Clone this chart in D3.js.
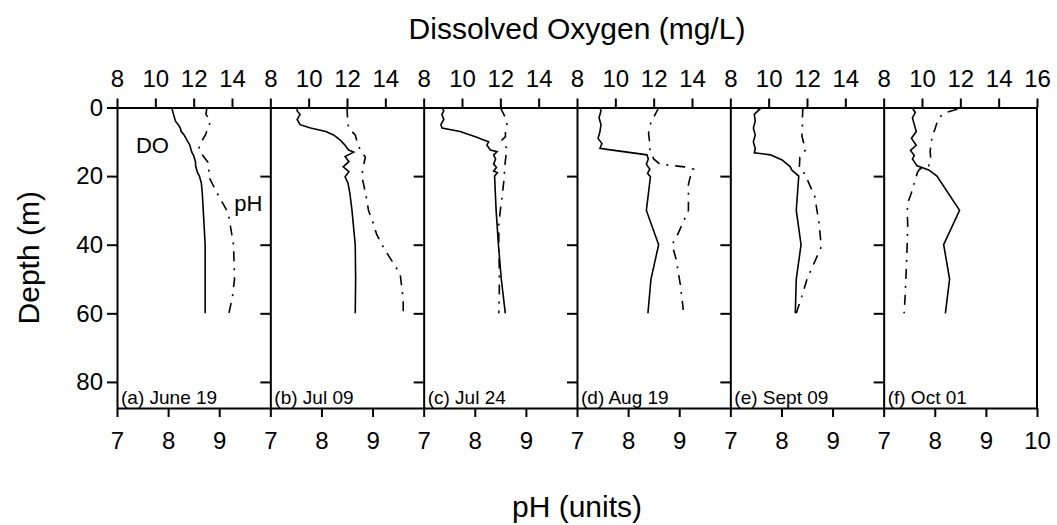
<!DOCTYPE html>
<html>
<head>
<meta charset="utf-8">
<script src="https://cdn.jsdelivr.net/npm/d3@7"></script>
<style>
body { margin: 0; background: #fff; }
svg { font-family: "Liberation Sans", Arial, sans-serif; }
.axis .domain { stroke-width: 2; }
.axis .tick line { stroke-width: 2; }
</style>
</head>
<body>
<svg id="chart" width="1057" height="525"></svg>
<script>
// panel labels
const panelLabels = ['(a) June 19', '(b) Jul 09', '(c) Jul 24', '(d) Aug 19', '(e) Sept 09', '(f) Oct 01'];

// ticks
const doTicks = [8, 10, 12, 14];
const phTicks = [7, 8, 9];
const depthTicks = [0, 20, 40, 60, 80];

// [depth (m), DO (mg/L)]
const doA = [[0,10.85],[1,10.9],[2,10.95],[3,11.0],[4,11.05],[5,11.2],[6,11.3],[7,11.35],[8,11.5],[9,11.6],[10,11.7],[11,11.8],[12,11.85],[13,11.9],[14,12.0],[15,12.05],[16,12.1],[17,12.1],[18,12.15],[19,12.2],[20,12.3],[22,12.4],[25,12.45],[30,12.5],[40,12.6],[50,12.6],[60,12.6]];
const doB = [[0,9.4],[1,9.4],[2,9.55],[3.5,9.4],[5,9.55],[6,10.1],[7,10.9],[8,11.3],[9.5,11.65],[11,11.9],[12.4,12.08],[13,12.35],[14.3,11.9],[15.8,12.1],[17.3,11.8],[18.7,12.1],[20.2,11.9],[22,12.05],[25,12.15],[30,12.26],[40,12.43],[50,12.45],[60,12.43]];
const doC = [[0,8.96],[1,9.05],[2,8.95],[3.5,9.05],[5,8.9],[6,8.96],[7,9.9],[8.5,10.7],[9.5,11.13],[10,11.39],[11,11.3],[12.4,11.48],[12.9,11.83],[13.8,11.65],[15,11.75],[16.5,11.65],[17.5,11.8],[18.5,11.65],[19,11.85],[20,11.7],[30,11.78],[40,11.9],[50,12.05],[60,12.26]];
const doD = [[0,9.2],[1,9.25],[3,9.15],[5,9.25],[7,9.2],[9,9.1],[10.5,9.3],[11.9,9.2],[12.2,9.56],[13.8,11.65],[15,11.72],[16.5,11.62],[18,11.8],[19.2,11.68],[20.2,11.83],[30,11.62],[40,12.26],[50,11.86],[60,11.7]];
const doE = [[0,9.3],[0.5,9.53],[2,9.25],[4,9.3],[6,9.2],[8,9.3],[10,9.2],[12,9.3],[13.2,9.25],[13.8,10.09],[15.3,10.7],[17.3,11.13],[18.2,11.2],[20,11.57],[30,11.44],[40,11.69],[50,11.44],[60,11.39]];
const doF = [[0,9.48],[1.5,9.65],[3,9.5],[5,9.6],[7,9.7],[9,9.45],[11,9.7],[12.5,9.4],[14,9.6],[15,9.5],[17,9.74],[18.2,10.35],[20,10.78],[30,11.96],[40,11.13],[50,11.44],[60,11.22]];

// [depth (m), pH]
const phA = [[0,8.76],[2,8.74],[4,8.83],[6,8.78],[8,8.73],[10,8.65],[12,8.6],[14,8.68],[16,8.78],[18,8.8],[20,8.79],[25,8.96],[30,9.15],[32,9.19],[40,9.28],[50,9.3],[55,9.26],[60,9.19]];
const phB = [[0,8.5],[3,8.51],[6,8.53],[8,8.66],[10,8.7],[12.5,8.76],[14.5,8.86],[17,8.82],[20,8.79],[27,8.89],[30,8.92],[34,9.02],[37,9.08],[41,9.22],[48.5,9.54],[56,9.6],[60,9.6]];
const phC = [[0,8.5],[3,8.6],[5,8.63],[7,8.6],[8.5,8.6],[9.5,8.53],[12,8.63],[14,8.61],[18,8.58],[20,8.58],[26.5,8.53],[30,8.5],[34,8.47],[40,8.47],[48,8.48],[55,8.48],[60,8.47]];
const phD = [[0,8.6],[2,8.53],[5,8.43],[7.5,8.4],[10,8.42],[12.4,8.43],[15,8.5],[16.5,8.62],[17.3,9.1],[18,9.28],[19,9.24],[20,9.22],[22.4,9.18],[30,9.18],[37,8.97],[40,8.86],[44.3,8.94],[51.5,9.02],[59,9.08]];
const phE = [[0,8.42],[3,8.41],[7,8.41],[8.3,8.4],[12.4,8.47],[14.5,8.36],[17.8,8.35],[19.2,8.45],[25.8,8.65],[30.4,8.7],[33,8.73],[40.6,8.78],[47.7,8.57],[50,8.5],[55,8.4],[60,8.29]];
const phF = [[0.5,8.44],[1.5,8.2],[3,8.08],[5,8.03],[6.5,8.0],[8,7.95],[12.7,7.91],[15,7.92],[17,7.88],[18,7.7],[19,7.66],[25,7.54],[27,7.49],[30,7.46],[34,7.47],[40,7.46],[48,7.44],[55,7.42],[60,7.4]];

const doSeries = [doA, doB, doC, doD, doE, doF];
const phSeries = [phA, phB, phC, phD, phE, phF];

let config = {
    left: 117,
    right: 1037,
    top: 107.5,
    bottom: 408,
    tick: 9,
    tickFont: 24,
    titleFont: 30,
};

const svg = d3.select('#chart');
const n = panelLabels.length;

const px = d3.scaleLinear().domain([0, n]).range([config.left, config.right]);
const y = d3.scaleLinear().domain([0, 87.6]).range([config.top, config.bottom]);

// axis labels in the page font, at the chart's size
function styleAxis(a) {
    a.attr('font-family', null).attr('font-size', null);
    a.selectAll('text').attr('font-size', config.tickFont);
}

for (let i = 0; i < n; i++) {
    const x0 = px(i), x1 = px(i + 1);
    const xDO = d3.scaleLinear().domain([8, 16]).range([x0, x1]);
    const xPH = d3.scaleLinear().domain([7, 10]).range([x0, x1]);
    const last = i === n - 1;

    const g = svg.append('g').classed('panel', true);

    // top DO axis
    g.append('g').classed('axis', true)
        .attr('transform', 'translate(0,' + config.top + ')')
        .call(d3.axisTop(xDO).tickValues(last ? doTicks.concat([16]) : doTicks)
            .tickFormat(d3.format('d'))
            .tickSize(config.tick).tickSizeOuter(0).tickPadding(12))
        .call(styleAxis);

    // bottom pH axis
    g.append('g').classed('axis', true)
        .attr('transform', 'translate(0,' + config.bottom + ')')
        .call(d3.axisBottom(xPH).tickValues(last ? phTicks.concat([10]) : phTicks)
            .tickFormat(d3.format('d'))
            .tickSize(config.tick).tickSizeOuter(0).tickPadding(15))
        .call(styleAxis);

    // left depth axis (ticks point left)
    const la = g.append('g').classed('axis', true)
        .attr('transform', 'translate(' + x0 + ',0)')
        .call(d3.axisLeft(y).tickValues(depthTicks).tickSize(10).tickSizeOuter(0).tickPadding(4))
        .call(styleAxis);
    if (i > 0) la.selectAll('text').remove();

    // DO profile
    g.append('path')
        .datum(doSeries[i])
        .attr('fill', 'none')
        .attr('stroke', '#000')
        .attr('stroke-width', 1.6)
        .attr('d', d3.line().x(d => xDO(d[1])).y(d => y(d[0])));

    // pH profile
    g.append('path')
        .datum(phSeries[i])
        .attr('fill', 'none')
        .attr('stroke', '#000')
        .attr('stroke-width', 1.6)
        .attr('stroke-dasharray', '10,7,2,7')
        .attr('d', d3.line().x(d => xPH(d[1])).y(d => y(d[0])));

    g.append('text')
        .attr('x', x0 + 4)
        .attr('y', config.bottom - 4)
        .attr('font-size', 19)
        .text(panelLabels[i]);

    if (i === 0) {
        g.append('text').attr('x', xDO(9.85)).attr('y', y(11)).attr('dy', '0.35em')
            .attr('text-anchor', 'middle').attr('font-size', 22).text('DO');
        g.append('text').attr('x', xPH(9.57)).attr('y', y(27.8)).attr('dy', '0.35em')
            .attr('text-anchor', 'middle').attr('font-size', 22).text('pH');
    }
}

// right border
svg.append('line')
    .attr('x1', config.right).attr('x2', config.right)
    .attr('y1', config.top).attr('y2', config.bottom)
    .attr('stroke', '#000').attr('stroke-width', 2);

// titles
svg.append('text')
    .attr('x', (config.left + config.right) / 2).attr('y', 39)
    .attr('text-anchor', 'middle').attr('font-size', config.titleFont)
    .text('Dissolved Oxygen (mg/L)');

svg.append('text')
    .attr('x', (config.left + config.right) / 2).attr('y', 517)
    .attr('text-anchor', 'middle').attr('font-size', config.titleFont)
    .text('pH (units)');

svg.append('text')
    .attr('transform', 'translate(39,' + ((config.top + config.bottom) / 2) + ') rotate(-90)')
    .attr('text-anchor', 'middle').attr('font-size', config.titleFont)
    .text('Depth (m)');
</script>
</body>
</html>
